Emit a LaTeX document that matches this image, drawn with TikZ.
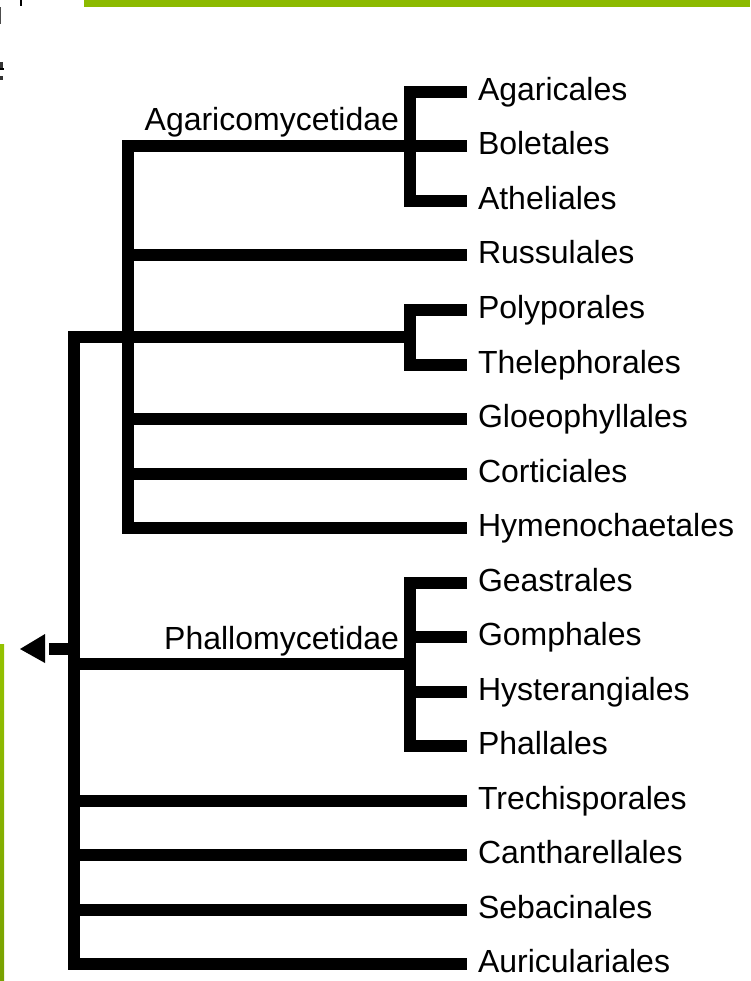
\documentclass[tikz,border=0pt]{standalone}
\usepackage{fontspec}
\setmainfont{Liberation Sans}
\usepackage{xcolor}
\usepackage{tikz}
\usetikzlibrary{calc, positioning}
\definecolor{BarGreen}{RGB}{140,186,0}
\definecolor{BarGreenTop}{RGB}{148,194,0}
\definecolor{BarGreenBot}{RGB}{120,161,0}
\tikzset{
  % Rami del cladogramma
  branch/.style={line width=12pt,line join=miter,black},
  % Etichette degli ordini
  taxon/.style={anchor=west,inner xsep=11pt,inner ysep=0pt,outer sep=0pt,
    text height=25pt,text depth=8pt},
  % Etichette delle sottoclassi
  clade/.style={anchor=base east,inner sep=0pt,outer sep=0pt}
}

\begin{document}
\begin{tikzpicture}[x=1pt,y=-1pt,font=\fontsize{32}{38}\selectfont]
    \useasboundingbox (0,0) rectangle (750,981);
    \fill[BarGreen] (84,0) rectangle (750,7);
    \shade[top color=BarGreenTop,bottom color=BarGreenBot] (0,644) rectangle (4,981);
    \fill (20,0) rectangle (22,6);
    \fill[black!70] (0,7) rectangle (1,24);
    \fill[black!80] (0,62) rectangle (3,68);
    \fill (0,68) rectangle (4,70);
    \fill[black!80] (0,76) rectangle (3,80);
    \foreach \name [count=\i from 0] in {Agaricales,Boletales,Atheliales,Russulales,
      Polyporales,Thelephorales,Gloeophyllales,Corticiales,Hymenochaetales,
      Geastrales,Gomphales,Hysterangiales,Phallales,Trechisporales,
      Cantharellales,Sebacinales,Auriculariales}
      \node[taxon] (\name) at (467,{92+54.5*\i}) {\name};
    \coordinate (agc) at (410,146);
    \coordinate (agm) at (128,337);
    \coordinate (pol) at (410,337);
    \coordinate (root) at (74,649);
    \coordinate (pha) at (410,664);
    \coordinate (stub) at (49,649);
    \draw[branch] (Agaricales) -| (agc) |- (Atheliales);
    \draw[branch] (Boletales) -| (agm) |- (Hymenochaetales);
    \foreach \t in {Russulales,Gloeophyllales,Corticiales}
      \draw[branch] (\t) -- (\t -| agm);
    \draw[branch] (Polyporales) -| (pol) |- (Thelephorales);
    \draw[branch] (pol) -| (root) |- (Auriculariales);
    \draw[branch] (Geastrales) -| (pha) |- (Phallales);
    \foreach \t in {Gomphales,Hysterangiales}
      \draw[branch] (\t) -- (\t -| pha);
    \draw[branch] (pha) -- (pha -| root);
    \foreach \t in {Trechisporales,Cantharellales,Sebacinales}
      \draw[branch] (\t) -- (\t -| root);
    \draw[branch] (root) -- (stub);
    \fill (20,649) -- (45,634) -- (45,663) -- cycle;
    \node[clade] (agmlab) at (399,131) {Agaricomycetidae};
    \node[clade] (phalab) at (399,649) {Phallomycetidae};
  \end{tikzpicture}
\end{document}
